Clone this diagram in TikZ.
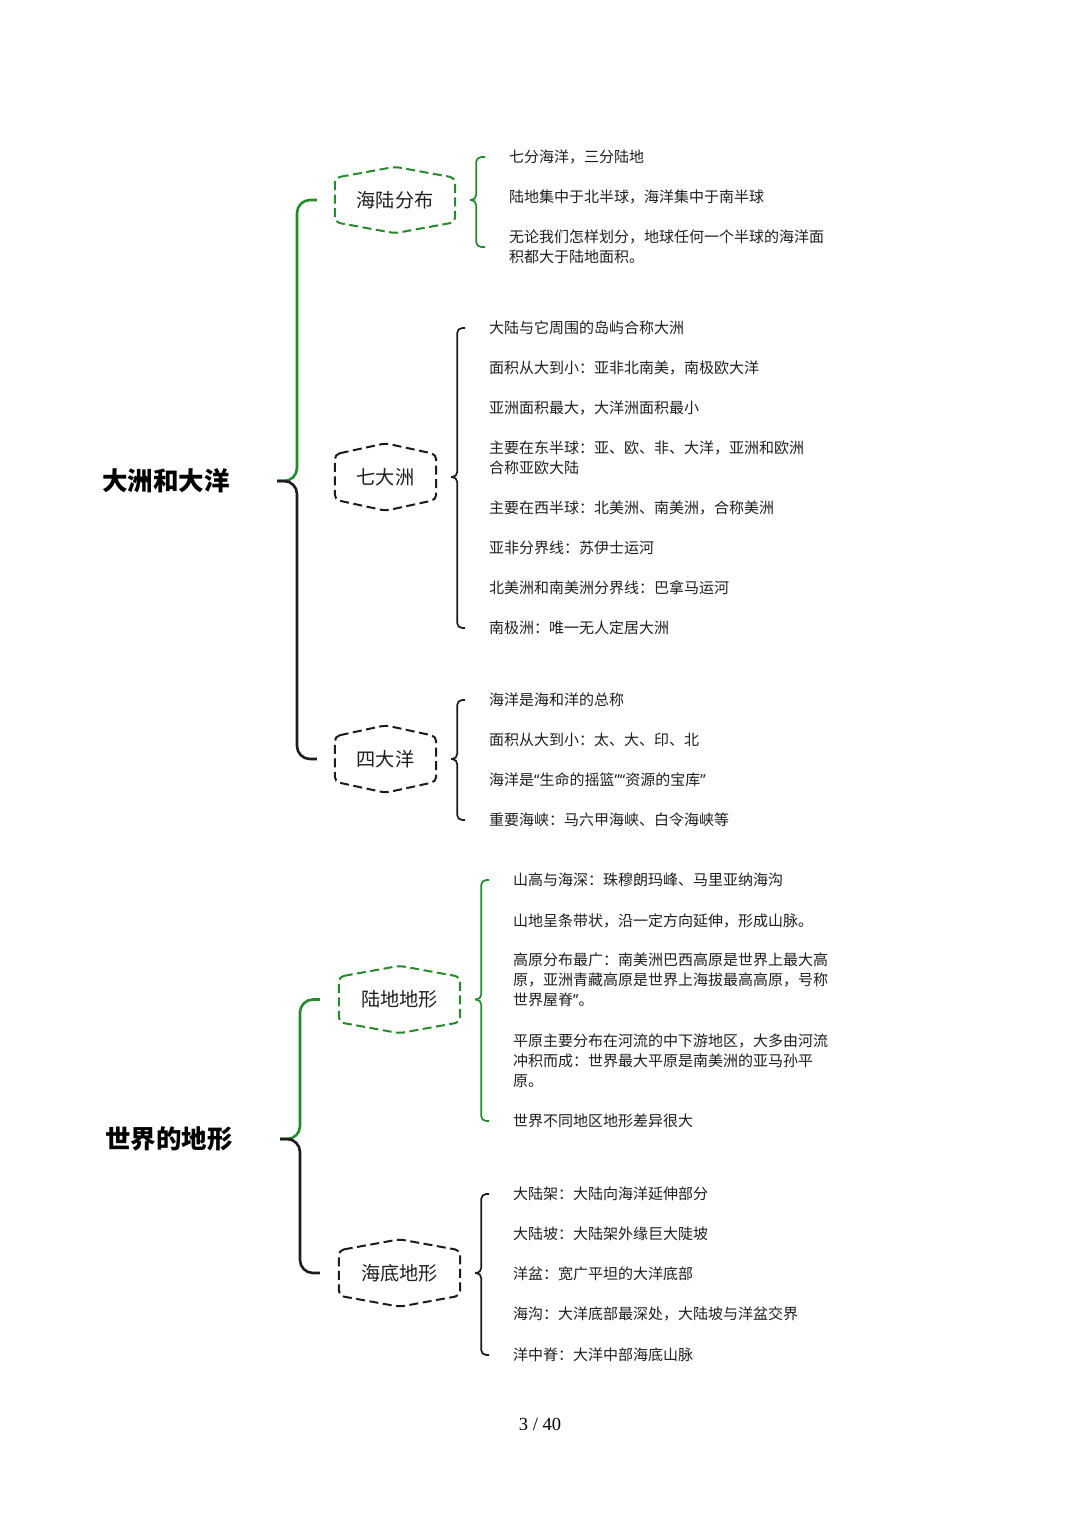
\documentclass[tikz,border=0pt]{standalone}
\usepackage{fontspec}
\setmainfont{Noto Sans CJK SC}
\newfontfamily\pagefont{Liberation Serif}
\newfontfamily\quotefont{Noto Sans}
\newcommand\myoq{{\quotefont “}}
\newcommand\mycq{{\quotefont ”}}
\usetikzlibrary{calc}
\definecolor{brgreen}{RGB}{36,138,44}
\definecolor{brdark}{RGB}{28,28,28}
\definecolor{txt}{RGB}{30,30,30}
\tikzset{
  rootlabel/.style={inner sep=0pt, anchor=east, text=black,
    font=\fontsize{25.5}{26}\selectfont\bfseries},
  hexlabel/.style 2 args={inner sep=0pt, minimum width=#1, minimum height=#2,
    text=txt, font=\fontsize{19.2}{19}\selectfont},
  leaf/.style={inner sep=0pt, anchor=west, align=left, text=txt,
    font=\fontsize{15}{20}\selectfont},
  mainbrace/.style={line width=2.6pt, rounded corners=13pt},
  subbrace/.style={line width=1.7pt, rounded corners=5pt},
  hexframe/.style={line width=2pt, dash pattern=on 9pt off 4.5pt, rounded corners=5pt},
}
\newcommand\hexframeof[2]{%
  \draw[hexframe,#2] ($(#1.north west)+(0,11)$) -- (#1.north)
    -- ($(#1.north east)+(0,11)$) -- ($(#1.south east)+(0,-11)$)
    -- (#1.south) -- ($(#1.south west)+(0,-11)$) -- cycle;}
\begin{document}
\begin{tikzpicture}[x=1pt,y=-1pt]
\useasboundingbox (0,0) rectangle (1080,1527);
\fill[white] (0,0) rectangle (1080,1527);

% roots
\node[rootlabel] (r1) at (230,481) {大洲和大洋};
\node[rootlabel] (r2) at (233,1139) {世界的地形};
\coordinate (r1tip) at ([xshift=47pt]r1.east);
\coordinate (r2tip) at ([xshift=47pt]r2.east);

% second level
\node[hexlabel={120pt}{66pt}] (c1) at (395,200) {海陆分布};
\node[hexlabel={101pt}{67pt}] (c2) at (385.5,477) {七大洲};
\node[hexlabel={101pt}{67pt}] (c3) at (385.5,759) {四大洋};
\node[hexlabel={121pt}{67pt}] (c4) at (399.5,999.5) {陆地地形};
\node[hexlabel={121pt}{67pt}] (c5) at (399.5,1273) {海底地形};
\hexframeof{c1}{brgreen}
\hexframeof{c2}{brdark}
\hexframeof{c3}{brdark}
\hexframeof{c4}{brgreen}
\hexframeof{c5}{brdark}

% main braces
\draw[mainbrace,brgreen] (r1tip) -- ++(20,0) |- ([xshift=-18pt]c1.west);
\draw[mainbrace,brdark] (r1tip) -- ++(20,0) |- ([xshift=-18pt]c3.west);
\draw[mainbrace,brgreen] (r2tip) -- ++(20,0) |- ([xshift=-19pt]c4.west);
\draw[mainbrace,brdark] (r2tip) -- ++(20,0) |- ([xshift=-19pt]c5.west);

% leaves: group 1
\node[leaf] (a1) at (509,157) {七分海洋，三分陆地};
\node[leaf] (a2) at (509,197) {陆地集中于北半球，海洋集中于南半球};
\node[leaf] (a3) at (509,247) {无论我们怎样划分，地球任何一个半球的海洋面\\积都大于陆地面积。};
% group 2
\node[leaf] (b1) at (489,328) {大陆与它周围的岛屿合称大洲};
\node[leaf] (b2) at (489,368) {面积从大到小：亚非北南美，南极欧大洋};
\node[leaf] (b3) at (489,408) {亚洲面积最大，大洋洲面积最小};
\node[leaf] (b4) at (489,458) {主要在东半球：亚、欧、非、大洋，亚洲和欧洲\\合称亚欧大陆};
\node[leaf] (b5) at (489,508) {主要在西半球：北美洲、南美洲，合称美洲};
\node[leaf] (b6) at (489,548) {亚非分界线：苏伊士运河};
\node[leaf] (b7) at (489,588) {北美洲和南美洲分界线：巴拿马运河};
\node[leaf] (b8) at (489,628) {南极洲：唯一无人定居大洲};
% group 3
\node[leaf] (d1) at (489,700) {海洋是海和洋的总称};
\node[leaf] (d2) at (489,740) {面积从大到小：太、大、印、北};
\node[leaf] (d3) at (489,780) {海洋是\myoq 生命的摇篮\mycq\myoq 资源的宝库\mycq};
\node[leaf] (d4) at (489,820) {重要海峡：马六甲海峡、白令海峡等};
% group 4
\node[leaf] (e1) at (513,880) {山高与海深：珠穆朗玛峰、马里亚纳海沟};
\node[leaf] (e2) at (513,921) {山地呈条带状，沿一定方向延伸，形成山脉。};
\node[leaf] (e3) at (513,980) {高原分布最广：南美洲巴西高原是世界上最大高\\原，亚洲青藏高原是世界上海拔最高高原，号称\\世界屋脊\mycq。};
\node[leaf] (e4) at (513,1061) {平原主要分布在河流的中下游地区，大多由河流\\冲积而成：世界最大平原是南美洲的亚马孙平\\原。};
\node[leaf] (e5) at (513,1121) {世界不同地区地形差异很大};
% group 5
\node[leaf] (f1) at (513,1194) {大陆架：大陆向海洋延伸部分};
\node[leaf] (f2) at (513,1234) {大陆坡：大陆架外缘巨大陡坡};
\node[leaf] (f3) at (513,1274) {洋盆：宽广平坦的大洋底部};
\node[leaf] (f4) at (513,1314) {海沟：大洋底部最深处，大陆坡与洋盆交界};
\node[leaf] (f5) at (513,1355) {洋中脊：大洋中部海底山脉};

% sub braces
\coordinate (t1) at ([xshift=15pt]c1.east);
\coordinate (t2) at ([xshift=15pt]c2.east);
\coordinate (t3) at ([xshift=15pt]c3.east);
\coordinate (t4) at ([xshift=15pt]c4.east);
\coordinate (t5) at ([xshift=15pt]c5.east);
\draw[subbrace,brgreen] (t1) -- ++(6,0) |- ([xshift=-24pt]a1.west);
\draw[subbrace,brgreen] (t1) -- ++(6,0) |- ([xshift=-24pt]a3.west);
\draw[subbrace,brdark] (t2) -- ++(6,0) |- ([xshift=-24pt]b1.west);
\draw[subbrace,brdark] (t2) -- ++(6,0) |- ([xshift=-24pt]b8.west);
\draw[subbrace,brdark] (t3) -- ++(6,0) |- ([xshift=-24pt]d1.west);
\draw[subbrace,brdark] (t3) -- ++(6,0) |- ([xshift=-24pt]d4.west);
\draw[subbrace,brgreen] (t4) -- ++(6,0) |- ([xshift=-24pt]e1.west);
\draw[subbrace,brgreen] (t4) -- ++(6,0) |- ([xshift=-24pt]e5.west);
\draw[subbrace,brdark] (t5) -- ++(6,0) |- ([xshift=-24pt]f1.west);
\draw[subbrace,brdark] (t5) -- ++(6,0) |- ([xshift=-24pt]f5.west);

% page number
\node[inner sep=0pt, font=\pagefont\fontsize{18.5}{19}\selectfont, text=black] (pg) at (540,1424) {3 / 40};
\end{tikzpicture}
\end{document}
